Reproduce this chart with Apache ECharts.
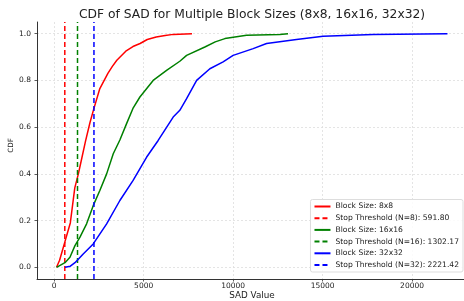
<!DOCTYPE html>
<html>
<head>
<meta charset="utf-8">
<script src="https://cdn.jsdelivr.net/npm/echarts@6/dist/echarts.min.js"></script>
<style>
  html, body { margin: 0; padding: 0; background: #fff; }
  #chart { width: 464px; height: 301px; }
</style>
</head>
<body>
<div id="chart"></div>
<script>
// CDF curves: [SAD value, CDF]
const cdf8 = [
    [130, 0], [300, 0.03], [450, 0.07], [600, 0.11], [750, 0.15], [900, 0.19],
    [1000, 0.25], [1150, 0.34], [1350, 0.40], [1550, 0.47], [1750, 0.54],
    [2000, 0.62], [2200, 0.675], [2550, 0.765], [3000, 0.83], [3250, 0.86],
    [3500, 0.886], [4000, 0.925], [4400, 0.945], [4800, 0.958], [5200, 0.975],
    [5700, 0.986], [6200, 0.992], [6650, 0.997], [7700, 1.0]
];
const cdf16 = [
    [130, 0], [600, 0.02], [880, 0.043], [1160, 0.093], [1440, 0.129],
    [1810, 0.186], [2180, 0.264], [2550, 0.329], [2930, 0.40], [3300, 0.486],
    [3670, 0.545], [4045, 0.615], [4400, 0.68], [4790, 0.729], [5530, 0.80],
    [6280, 0.843], [7020, 0.882], [7400, 0.907], [8420, 0.943], [9000, 0.965],
    [9540, 0.979], [10750, 0.993], [12600, 0.997], [13070, 1.0]
];
const cdf32 = [
    [600, 0], [900, 0.005], [1160, 0.02], [1620, 0.057], [2180, 0.10],
    [2930, 0.186], [3670, 0.286], [4410, 0.372], [5160, 0.471], [5810, 0.543],
    [6650, 0.643], [7020, 0.672], [7400, 0.722], [7960, 0.80], [8700, 0.85],
    [9440, 0.879], [10000, 0.907], [11120, 0.936], [11870, 0.958],
    [13540, 0.975], [15030, 0.989], [17820, 0.997], [21980, 1.0]
];
const thresholds = [591.80, 1302.17, 2221.42];
const blockSizes = ['8x8', '16x16', '32x32'];
const blockN = [8, 16, 32];
const colors = ['#ff0000', '#008000', '#0000ff'];

const xTicks = [0, 5000, 10000, 15000, 20000];
const yTicks = [0, 0.2, 0.4, 0.6, 0.8, 1.0];
const xMin = -962, xMax = 23072;
const yMin = -0.05, yMax = 1.05;

const curves = [cdf8, cdf16, cdf32];
const series = [];
curves.forEach(function (data, i) {
    series.push({
        name: 'Block Size: ' + blockSizes[i],
        type: 'line',
        data: data,
        symbol: 'none',
        lineStyle: { color: colors[i], width: 1.5 },
        itemStyle: { color: colors[i] }
    });
    series.push({
        name: 'Stop Threshold (N=' + blockN[i] + '): ' + thresholds[i].toFixed(2),
        type: 'line',
        data: [[thresholds[i], yMin], [thresholds[i], yMax]],
        symbol: 'none',
        lineStyle: { color: colors[i], width: 1.5, type: [5, 3] },
        itemStyle: { color: colors[i] }
    });
});

const chart = echarts.init(document.getElementById('chart'));
const font = 'DejaVu Sans';
chart.setOption({
    animation: false,
    backgroundColor: '#fff',
    title: {
        text: 'CDF of SAD for Multiple Block Sizes (8x8, 16x16, 32x32)',
        left: 247, top: 4, textAlign: 'center',
        textStyle: { fontFamily: font, fontSize: 12.3, fontWeight: 'normal', color: '#222' }
    },
    grid: { left: 37, right: -3, top: 22, bottom: 22, outerBoundsMode: 'none', containLabel: false },
    legend: {
        orient: 'vertical',
        right: 1, bottom: 29,
        itemWidth: 16, itemHeight: 8, itemGap: 3.7,
        padding: [3, 4, 3, 3],
        borderColor: '#ddd', borderWidth: 1, borderRadius: 2,
        backgroundColor: 'rgba(255,255,255,0.85)',
        itemStyle: { opacity: 0, color: 'rgba(0,0,0,0)', borderWidth: 0 },
        textStyle: { fontFamily: font, fontSize: 7.6, color: '#222', padding: [0, 0, 0, 0] }
    },
    xAxis: {
        type: 'value', min: xMin, max: xMax,
        name: 'SAD Value', nameLocation: 'middle', nameGap: 12.5, nameMoveOverlap: false,
        nameTextStyle: { fontFamily: font, fontSize: 8.8, color: '#222' },
        axisLine: { onZero: false, lineStyle: { color: '#333', width: 1 } },
        axisTick: { show: true, length: 2.5, customValues: xTicks, lineStyle: { color: '#333', width: 0.8 } },
        axisLabel: {
            customValues: xTicks, fontFamily: font, fontSize: 7.5, color: '#222', margin: 3,
            formatter: function (v) { return String(v); }
        },
        splitLine: { show: true, lineStyle: { color: '#ddd', width: 0.8, type: [2, 2] } }
    },
    yAxis: {
        type: 'value', min: yMin, max: yMax,
        name: 'CDF', nameLocation: 'middle', nameGap: 22, nameMoveOverlap: false,
        nameTextStyle: { fontFamily: font, fontSize: 7.2, color: '#222', padding: [0, 0, 0, 10] },
        axisLine: { show: true, onZero: false, lineStyle: { color: '#333', width: 1 } },
        axisTick: { show: true, length: 2.5, customValues: yTicks, lineStyle: { color: '#333', width: 0.8 } },
        axisLabel: {
            customValues: yTicks, fontFamily: font, fontSize: 7.5, color: '#222', margin: 6,
            formatter: function (v) { return v.toFixed(1); }
        },
        splitLine: { show: true, lineStyle: { color: '#ddd', width: 0.8, type: [2, 2] } }
    },
    series: series
});
</script>
</body>
</html>
